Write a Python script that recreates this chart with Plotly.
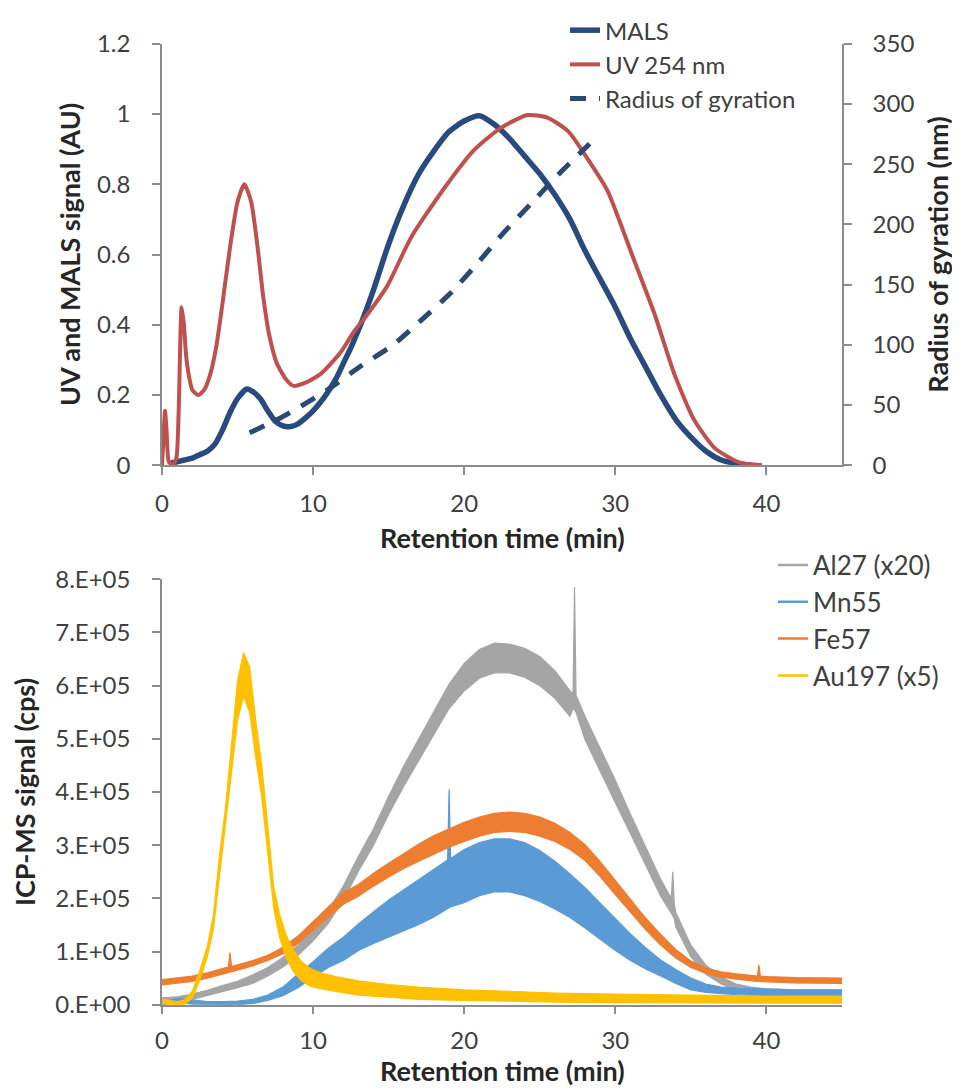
import plotly.graph_objects as go

# ---------------- Top panel data ----------------
mals_t = [0.5, 1, 1.5, 2, 2.5, 3, 3.5, 4, 4.5, 5, 5.6, 6, 6.5, 7, 7.5, 8, 8.5, 9, 9.5, 10,
          10.5, 11, 11.5, 12, 12.5, 13, 13.5, 14, 15, 16, 17, 18, 19, 20, 21, 22, 23, 24,
          25, 26, 27, 28, 29, 30, 31, 32, 33, 34, 35, 36, 37, 38, 39]
mals_v = [0.005, 0.01, 0.015, 0.02, 0.03, 0.04, 0.06, 0.10, 0.15, 0.19, 0.217, 0.21, 0.19,
          0.155, 0.125, 0.112, 0.11, 0.118, 0.135, 0.155, 0.18, 0.21, 0.245, 0.29, 0.335,
          0.385, 0.44, 0.50, 0.63, 0.74, 0.83, 0.895, 0.95, 0.98, 0.995, 0.97, 0.93, 0.88,
          0.83, 0.77, 0.70, 0.61, 0.53, 0.45, 0.36, 0.28, 0.20, 0.13, 0.08, 0.04, 0.015,
          0.005, 0.0]

uv_t = [0, 0.1, 0.2, 0.3, 0.45, 0.7, 0.95, 1.1, 1.3, 1.45, 1.6, 1.8, 2.0, 2.4, 2.8, 3.2,
        3.6, 4.0, 4.5, 5.0, 5.45, 5.9, 6.3, 6.7, 7.1, 7.6, 8.2, 8.7, 9.5, 10.5, 11.8, 12.7,
        13.6, 14.9, 16.5, 18.7, 20.6, 22.4, 24.2, 25.5, 26.9, 28.2, 29.5, 30.5, 31.1, 32.6,
        33.9, 35.2, 36.6, 38.2, 39.7]
uv_v = [0.0, 0.08, 0.155, 0.10, 0.01, 0.0, 0.02, 0.15, 0.45, 0.40, 0.31, 0.25, 0.215, 0.20,
        0.215, 0.26, 0.34, 0.46, 0.62, 0.75, 0.80, 0.75, 0.63, 0.48, 0.37, 0.29, 0.245,
        0.226, 0.235, 0.26, 0.32, 0.38, 0.43, 0.51, 0.65, 0.79, 0.895, 0.96, 0.997, 0.99,
        0.95, 0.87, 0.78, 0.67, 0.60, 0.43, 0.26, 0.13, 0.048, 0.008, 0.0]

rg_t = [5.8, 7.8, 9.2, 11, 13, 15.3, 17.2, 19.1, 20.9, 22.6, 24.4, 26.2, 28.3]
rg_v = [27, 39, 49, 63, 81, 100, 121, 143, 168, 193, 217, 241, 267]

# ---------------- Bottom panel data (noise band: low / high envelopes, x1e5 cps) ----------------
al_t = [0, 1, 2, 3, 4, 5, 6, 7, 8, 9, 10, 11, 12, 13, 14, 15, 16, 17, 18, 19, 20, 21, 22,
        23, 24, 25, 26, 27, 27.2, 27.3, 27.4, 28, 29, 30, 31, 32, 33, 33.7, 33.8, 33.9, 34,
        35, 36, 37, 38, 39, 40, 42, 45]
al_lo = [0.03, 0.05, 0.10, 0.17, 0.25, 0.32, 0.40, 0.54, 0.71, 0.93, 1.20, 1.53, 1.97, 2.51,
         3.00, 3.58, 4.11, 4.60, 5.08, 5.57, 5.90, 6.14, 6.24, 6.24, 6.16, 6.00, 5.76, 5.42,
         5.58, 5.55, 5.50, 4.98, 4.38, 3.80, 3.22, 2.63, 2.04, 1.72, 1.68, 1.62, 1.46, 0.90,
         0.57, 0.39, 0.28, 0.23, 0.20, 0.18, 0.17]
al_hi = [0.13, 0.15, 0.20, 0.27, 0.36, 0.44, 0.56, 0.70, 0.89, 1.12, 1.40, 1.77, 2.23, 2.79,
         3.31, 3.92, 4.49, 5.00, 5.52, 6.03, 6.42, 6.68, 6.80, 6.78, 6.70, 6.55, 6.28, 5.90,
         5.85, 7.85, 5.82, 5.42, 4.82, 4.22, 3.58, 2.97, 2.36, 2.00, 2.50, 1.90, 1.74, 1.12,
         0.74, 0.52, 0.39, 0.33, 0.30, 0.28, 0.27]

mn_t = [0, 1, 2, 3, 4, 5, 6, 7, 8, 9, 10, 11, 12, 13, 14, 15, 16, 17, 18, 18.9, 19, 19.1, 20,
        21, 22, 23, 24, 25, 26, 27, 28, 29, 30, 31, 32, 33, 34, 35, 36, 37, 38, 40, 42, 45]
mn_lo = [0.0, 0.04, 0.01, 0.0, 0.0, 0.0, 0.02, 0.08, 0.17, 0.32, 0.51, 0.70, 0.83, 1.02, 1.15,
         1.27, 1.40, 1.51, 1.65, 1.80, 1.82, 1.84, 1.92, 2.05, 2.12, 2.12, 2.05, 1.94, 1.80,
         1.64, 1.44, 1.23, 1.02, 0.83, 0.67, 0.54, 0.40, 0.28, 0.23, 0.21, 0.19, 0.17, 0.16,
         0.16]
mn_hi = [0.05, 0.12, 0.09, 0.06, 0.06, 0.07, 0.10, 0.18, 0.33, 0.58, 0.81, 1.06, 1.27, 1.52,
         1.75, 1.97, 2.16, 2.35, 2.55, 2.72, 4.05, 2.75, 2.92, 3.05, 3.12, 3.12, 3.05, 2.90,
         2.70, 2.46, 2.20, 1.91, 1.62, 1.33, 1.07, 0.84, 0.66, 0.50, 0.39, 0.33, 0.31, 0.29,
         0.28, 0.28]

fe_t = [0, 1, 2, 3, 4, 4.4, 4.5, 4.6, 5, 6, 7, 8, 9, 10, 11, 12, 13, 14, 15, 16, 17, 18, 19,
        20, 21, 22, 23, 24, 25, 26, 27, 28, 29, 30, 31, 32, 33, 34, 35, 36, 37, 38, 39.4,
        39.5, 39.6, 40, 42, 45]
fe_lo = [0.37, 0.40, 0.44, 0.50, 0.57, 0.60, 0.61, 0.62, 0.65, 0.73, 0.83, 0.96, 1.15, 1.40,
         1.64, 1.89, 2.04, 2.23, 2.40, 2.56, 2.70, 2.83, 2.96, 3.07, 3.17, 3.24, 3.26, 3.24,
         3.17, 3.07, 2.92, 2.71, 2.41, 2.07, 1.73, 1.41, 1.12, 0.88, 0.70, 0.59, 0.52, 0.48,
         0.44, 0.44, 0.44, 0.43, 0.41, 0.40]
fe_hi = [0.47, 0.50, 0.54, 0.60, 0.67, 0.71, 0.98, 0.72, 0.75, 0.83, 0.93, 1.08, 1.29, 1.56,
         1.84, 2.11, 2.26, 2.47, 2.66, 2.84, 3.02, 3.18, 3.31, 3.43, 3.53, 3.60, 3.62, 3.60,
         3.53, 3.41, 3.24, 3.01, 2.69, 2.33, 1.97, 1.63, 1.32, 1.04, 0.82, 0.69, 0.62, 0.58,
         0.54, 0.75, 0.54, 0.53, 0.51, 0.50]

au_t = [0, 0.5, 1, 1.5, 2, 2.5, 3, 3.4, 3.8, 4.2, 4.6, 5.0, 5.4, 5.8, 6.2, 6.6, 7.0, 7.4, 7.8,
        8.2, 8.7, 9.2, 9.8, 10.5, 11.5, 13, 15, 17, 20, 23, 26, 30, 35, 40, 45]
au_lo = [0.02, 0.01, 0.0, 0.01, 0.12, 0.46, 0.90, 1.42, 2.40, 3.30, 4.35, 5.35, 5.80, 5.50,
         4.65, 3.90, 2.85, 1.80, 1.25, 0.90, 0.62, 0.46, 0.35, 0.30, 0.25, 0.18, 0.14, 0.10,
         0.08, 0.06, 0.05, 0.04, 0.03, 0.03, 0.03]
au_hi = [0.10, 0.08, 0.06, 0.09, 0.25, 0.64, 1.10, 1.68, 2.80, 3.70, 4.85, 6.10, 6.62, 6.35,
         5.35, 4.50, 3.35, 2.20, 1.68, 1.32, 1.02, 0.82, 0.68, 0.60, 0.53, 0.45, 0.38, 0.33,
         0.28, 0.25, 0.22, 0.20, 0.18, 0.16, 0.16]

ICP_SCALE = 1e5
y3_vals = [0, 1e5, 2e5, 3e5, 4e5, 5e5, 6e5, 7e5, 8e5]
y3_text = ["0.E+00", "1.E+05", "2.E+05", "3.E+05", "4.E+05", "5.E+05", "6.E+05", "7.E+05", "8.E+05"]

# ---------------- Styling ----------------
FONT = "Lato"
TICK_COLOR = "#404040"
TITLE_COLOR = "#262626"
AXIS_LINE = "#8c8c8c"
C_MALS = "#284a7e"
C_UV = "#c0504d"
C_RG = "#2b4a72"
C_AL = "#a5a5a5"
C_MN = "#5b9bd5"
C_FE = "#ed7d31"
C_AU = "#ffc000"

# page body has an 8px margin: figure is drawn 8px in from the top-left corner
W, H, OFF = 952, 1080, 8
def px_x(p):
    return (p - OFF) / W
def px_y(p):
    return 1 - (p - OFF) / H

fig = go.Figure()

# Top panel
fig.add_trace(go.Scatter(x=mals_t, y=mals_v, mode="lines", name="MALS",
                         line=dict(color=C_MALS, width=5.5, shape="spline", smoothing=0.6),
                         xaxis="x", yaxis="y", legend="legend"))
fig.add_trace(go.Scatter(x=uv_t, y=uv_v, mode="lines", name="UV 254 nm",
                         line=dict(color=C_UV, width=4, shape="spline", smoothing=0.6),
                         xaxis="x", yaxis="y", legend="legend"))
fig.add_trace(go.Scatter(x=rg_t, y=rg_v, mode="lines", name="Radius of gyration",
                         line=dict(color=C_RG, width=5, dash="16px,13px", shape="spline", smoothing=0.5),
                         xaxis="x", yaxis="y2", legend="legend"))

# Bottom panel: noisy signals drawn as filled bands
def add_band(t, lo, hi, color, name):
    fig.add_trace(go.Scatter(x=t, y=[v * ICP_SCALE for v in lo], mode="lines",
                             line=dict(color=color, width=1.2), showlegend=False,
                             hoverinfo="skip", xaxis="x2", yaxis="y3"))
    fig.add_trace(go.Scatter(x=t, y=[v * ICP_SCALE for v in hi], mode="lines",
                             line=dict(color=color, width=1.2), fill="tonexty",
                             fillcolor=color, showlegend=False, name=name,
                             xaxis="x2", yaxis="y3"))
    fig.add_trace(go.Scatter(x=[None], y=[None], mode="lines", name=name,
                             line=dict(color=color, width=2.5),
                             xaxis="x2", yaxis="y3", legend="legend2"))

add_band(al_t, al_lo, al_hi, C_AL, "Al27 (x20)")
add_band(mn_t, mn_lo, mn_hi, C_MN, "Mn55")
add_band(fe_t, fe_lo, fe_hi, C_FE, "Fe57")
add_band(au_t, au_lo, au_hi, C_AU, "Au197 (x5)")

XDOM = [px_x(162), px_x(842)]
TOP_DOM = [px_y(460), px_y(35)]
BOT_DOM = [px_y(1004), px_y(575)]

tickfont = dict(family=FONT, size=24, color=TICK_COLOR)
titlefont = dict(family=FONT, size=27, color=TITLE_COLOR, weight="bold")

common_axis = dict(showline=True, linecolor=AXIS_LINE, linewidth=1.5, ticks="outside",
                   ticklen=8, tickwidth=1.5, tickcolor=AXIS_LINE, showgrid=False,
                   zeroline=False, tickfont=tickfont, automargin=False)

fig.update_layout(
    width=W, height=H,
    margin=dict(l=0, r=0, t=0, b=0),
    paper_bgcolor="white", plot_bgcolor="white",
    font=dict(family=FONT),
    xaxis=dict(domain=XDOM, range=[0, 45], tickvals=[0, 10, 20, 30, 40], anchor="y",
               ticklabelstandoff=8, **common_axis),
    yaxis=dict(domain=TOP_DOM, range=[0, 1.2], dtick=0.2, anchor="x",
               title=dict(text="UV and MALS signal (AU)", font=titlefont, standoff=8),
               ticklabelstandoff=17, **common_axis),
    yaxis2=dict(overlaying="y", side="right", range=[0, 350], dtick=50, anchor="x",
                title=dict(text="Radius of gyration (nm)", font=titlefont, standoff=16),
                ticklabelstandoff=16, **common_axis),
    xaxis2=dict(domain=XDOM, range=[0, 45], tickvals=[0, 10, 20, 30, 40], anchor="y3",
                ticklabelstandoff=6, **common_axis),
    yaxis3=dict(domain=BOT_DOM, range=[0, 8e5], tickvals=y3_vals, ticktext=y3_text,
                anchor="x2",
                title=dict(text="ICP-MS signal (cps)", font=titlefont, standoff=12),
                ticklabelstandoff=17, **common_axis),
    annotations=[
        dict(text="Retention time (min)", xref="paper", yref="paper",
             x=px_x(502), y=px_y(533), xanchor="center", yanchor="middle",
             showarrow=False, font=titlefont),
        dict(text="Retention time (min)", xref="paper", yref="paper",
             x=px_x(502), y=px_y(1070), xanchor="center", yanchor="middle",
             showarrow=False, font=titlefont),
    ],
    legend=dict(x=px_x(565), y=px_y(-1), xanchor="left", yanchor="top",
                font=dict(family=FONT, size=24, color=TICK_COLOR), traceorder="normal",
                bgcolor="rgba(0,0,0,0)", itemwidth=30, tracegroupgap=0),
    legend2=dict(x=px_x(773), y=px_y(537), xanchor="left", yanchor="top",
                 font=dict(family=FONT, size=26, color=TICK_COLOR), traceorder="normal",
                 bgcolor="rgba(0,0,0,0)", itemwidth=30, tracegroupgap=0),
    showlegend=True,
)

fig.write_html("out.html")
